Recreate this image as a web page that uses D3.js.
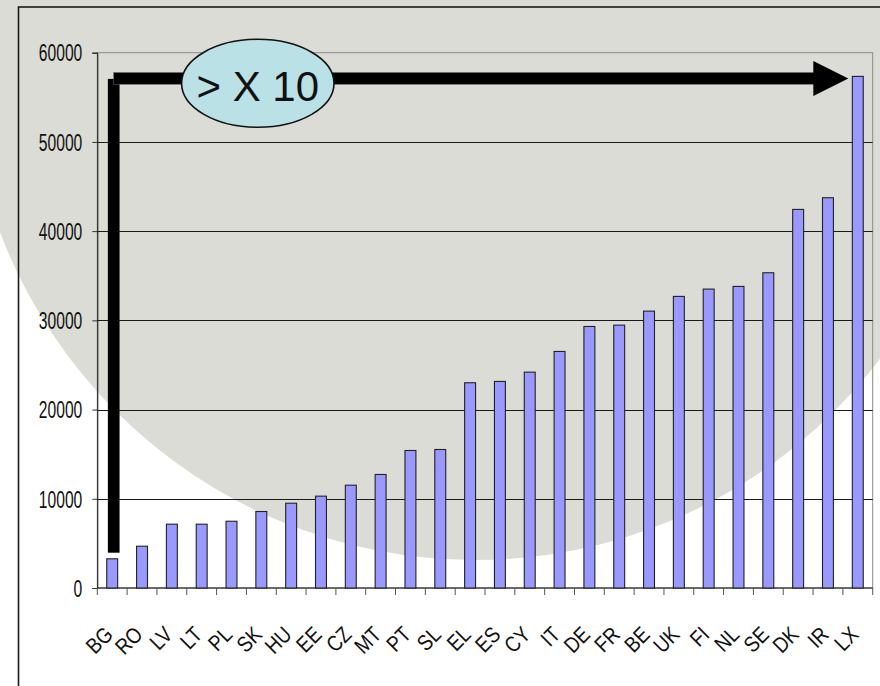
<!DOCTYPE html>
<html>
<head>
<meta charset="utf-8">
<script src="https://cdn.jsdelivr.net/npm/d3@7/dist/d3.min.js"></script>
<style>
  html, body { margin: 0; padding: 0; background: #ffffff; }
  svg { display: block; }
  text { font-family: "Liberation Sans", Arial, sans-serif; fill: #111; }
</style>
</head>
<body>
<svg id="chart" width="880" height="686"></svg>
<script>
// GDP per capita by member state (EUR), ordered from lowest to highest
const categories = ["BG","RO","LV","LT","PL","SK","HU","EE","CZ","MT","PT","SL",
                    "EL","ES","CY","IT","DE","FR","BE","UK","FI","NL","SE","DK","IR","LX"];
const values = [3330, 4740, 7210, 7210, 7540, 8630, 9560, 10350, 11580, 12780, 15470, 15580,
                23060, 23210, 24250, 26570, 29370, 29520, 31090, 32740, 33560, 33860, 35390,
                42490, 43800, 57400];
const yTicks = [0, 10000, 20000, 30000, 40000, 50000, 60000];
const calloutText = "> X 10";

const svg = d3.select("#chart");
const W = 880, H = 686;

// slide backdrop: large grey disc
svg.append("circle")
  .attr("cx", 475).attr("cy", 52).attr("r", 508)
  .attr("fill", "#dcdcd6");

// outer frame of the chart object
svg.append("rect")
  .attr("x", 18.5).attr("y", 7)
  .attr("width", W + 20).attr("height", H + 20)
  .attr("fill", "none").attr("stroke", "#1a1a1a").attr("stroke-width", 1.6);

const plot = { left: 97.3, right: 872.7, top: 52.7, bottom: 588 };

const x = d3.scaleBand()
  .domain(categories)
  .range([plot.left, plot.right])
  .paddingInner(0.6)
  .paddingOuter(0.3);

const y = d3.scaleLinear()
  .domain([0, 60000])
  .range([plot.bottom, plot.top]);

// plot-area border
svg.append("rect")
  .attr("x", plot.left).attr("y", plot.top)
  .attr("width", plot.right - plot.left).attr("height", plot.bottom - plot.top)
  .attr("fill", "none").attr("stroke", "#8a8a8a").attr("stroke-width", 1);

// horizontal gridlines
svg.append("g").selectAll("line")
  .data(yTicks.filter(d => d > 0 && d < 60000))
  .join("line")
  .attr("x1", plot.left).attr("x2", plot.right)
  .attr("y1", d => Math.round(y(d)) + 0.5).attr("y2", d => Math.round(y(d)) + 0.5)
  .attr("stroke", "#1a1a1a").attr("stroke-width", 1);

// y axis
const yAxis = svg.append("g")
  .attr("transform", `translate(${plot.left},0)`)
  .call(d3.axisLeft(y).tickValues(yTicks).tickSize(5).tickPadding(10).tickFormat(d3.format("d")));
yAxis.select(".domain").attr("stroke", "#111");
yAxis.selectAll(".tick line").attr("stroke", "#333");
yAxis.selectAll(".tick text")
  .attr("font-size", 23)
  .attr("font-family", "'Liberation Sans', Arial, sans-serif")
  .attr("fill", "#111")
  .attr("dy", "0.36em")
  .attr("x", null)
  .attr("transform", "translate(-15,0) scale(0.68,1)");

// x axis: baseline and band-boundary ticks
const step = x.step();
const bounds = d3.range(categories.length + 1).map(i => plot.left + i * step);
svg.append("line")
  .attr("x1", plot.left).attr("x2", plot.right)
  .attr("y1", plot.bottom).attr("y2", plot.bottom)
  .attr("stroke", "#111").attr("stroke-width", 1.2);
svg.append("g").selectAll("line")
  .data(bounds)
  .join("line")
  .attr("x1", d => d).attr("x2", d => d)
  .attr("y1", plot.bottom).attr("y2", plot.bottom + 7)
  .attr("stroke", "#555").attr("stroke-width", 1);

// category labels, rotated
svg.append("g").selectAll("text")
  .data(categories)
  .join("text")
  .attr("text-anchor", "end")
  .attr("font-size", 22)
  .attr("transform", d => `translate(${x(d) + x.bandwidth() / 2 + 2},${plot.bottom + 48}) rotate(-45) scale(0.85,1)`)
  .text(d => d);

// bars
svg.append("g").selectAll("rect")
  .data(values.map((v, i) => ({ c: categories[i], v })))
  .join("rect")
  .attr("x", d => x(d.c) + 0.5)
  .attr("y", d => y(d.v) + 0.5)
  .attr("width", x.bandwidth() - 1)
  .attr("height", d => plot.bottom - y(d.v) - 0.5)
  .attr("fill", "#9999ff")
  .attr("stroke", "#222")
  .attr("stroke-width", 1.1);

// comparison arrow from the lowest to the highest value
const first = categories[0], last = categories[categories.length - 1];
const maxV = d3.max(values), minV = d3.min(values);
const ax = x(first) + x.bandwidth() / 2 + 1.5;
const ay = y(maxV) + 2.5;
const tipX = x(last) - 3.5;
const thick = 11.7;

svg.append("rect")
  .attr("x", ax - thick / 2).attr("y", ay + 0.5)
  .attr("width", thick).attr("height", (y(minV) - 5.6) - (ay + 0.5))
  .attr("fill", "#000");
svg.append("rect")
  .attr("x", ax).attr("y", ay - thick / 2)
  .attr("width", tipX - 35 + 5 - ax).attr("height", thick)
  .attr("fill", "#000").attr("stroke", "#666").attr("stroke-width", 0.6);
svg.append("path")
  .attr("d", `M${tipX - 35},${ay - 17.5} L${tipX},${ay} L${tipX - 35},${ay + 17.5} Z`)
  .attr("fill", "#000");

// callout bubble
const bx = 257.8, by = 83.3;
svg.append("ellipse")
  .attr("cx", bx).attr("cy", by).attr("rx", 76.2).attr("ry", 44)
  .attr("fill", "#b9e1e6").attr("stroke", "#111").attr("stroke-width", 1.6);
svg.append("text")
  .attr("x", bx).attr("y", by + 17.4)
  .attr("text-anchor", "middle")
  .attr("font-size", 42)
  .attr("fill", "#111")
  .text(calloutText);
</script>
</body>
</html>
